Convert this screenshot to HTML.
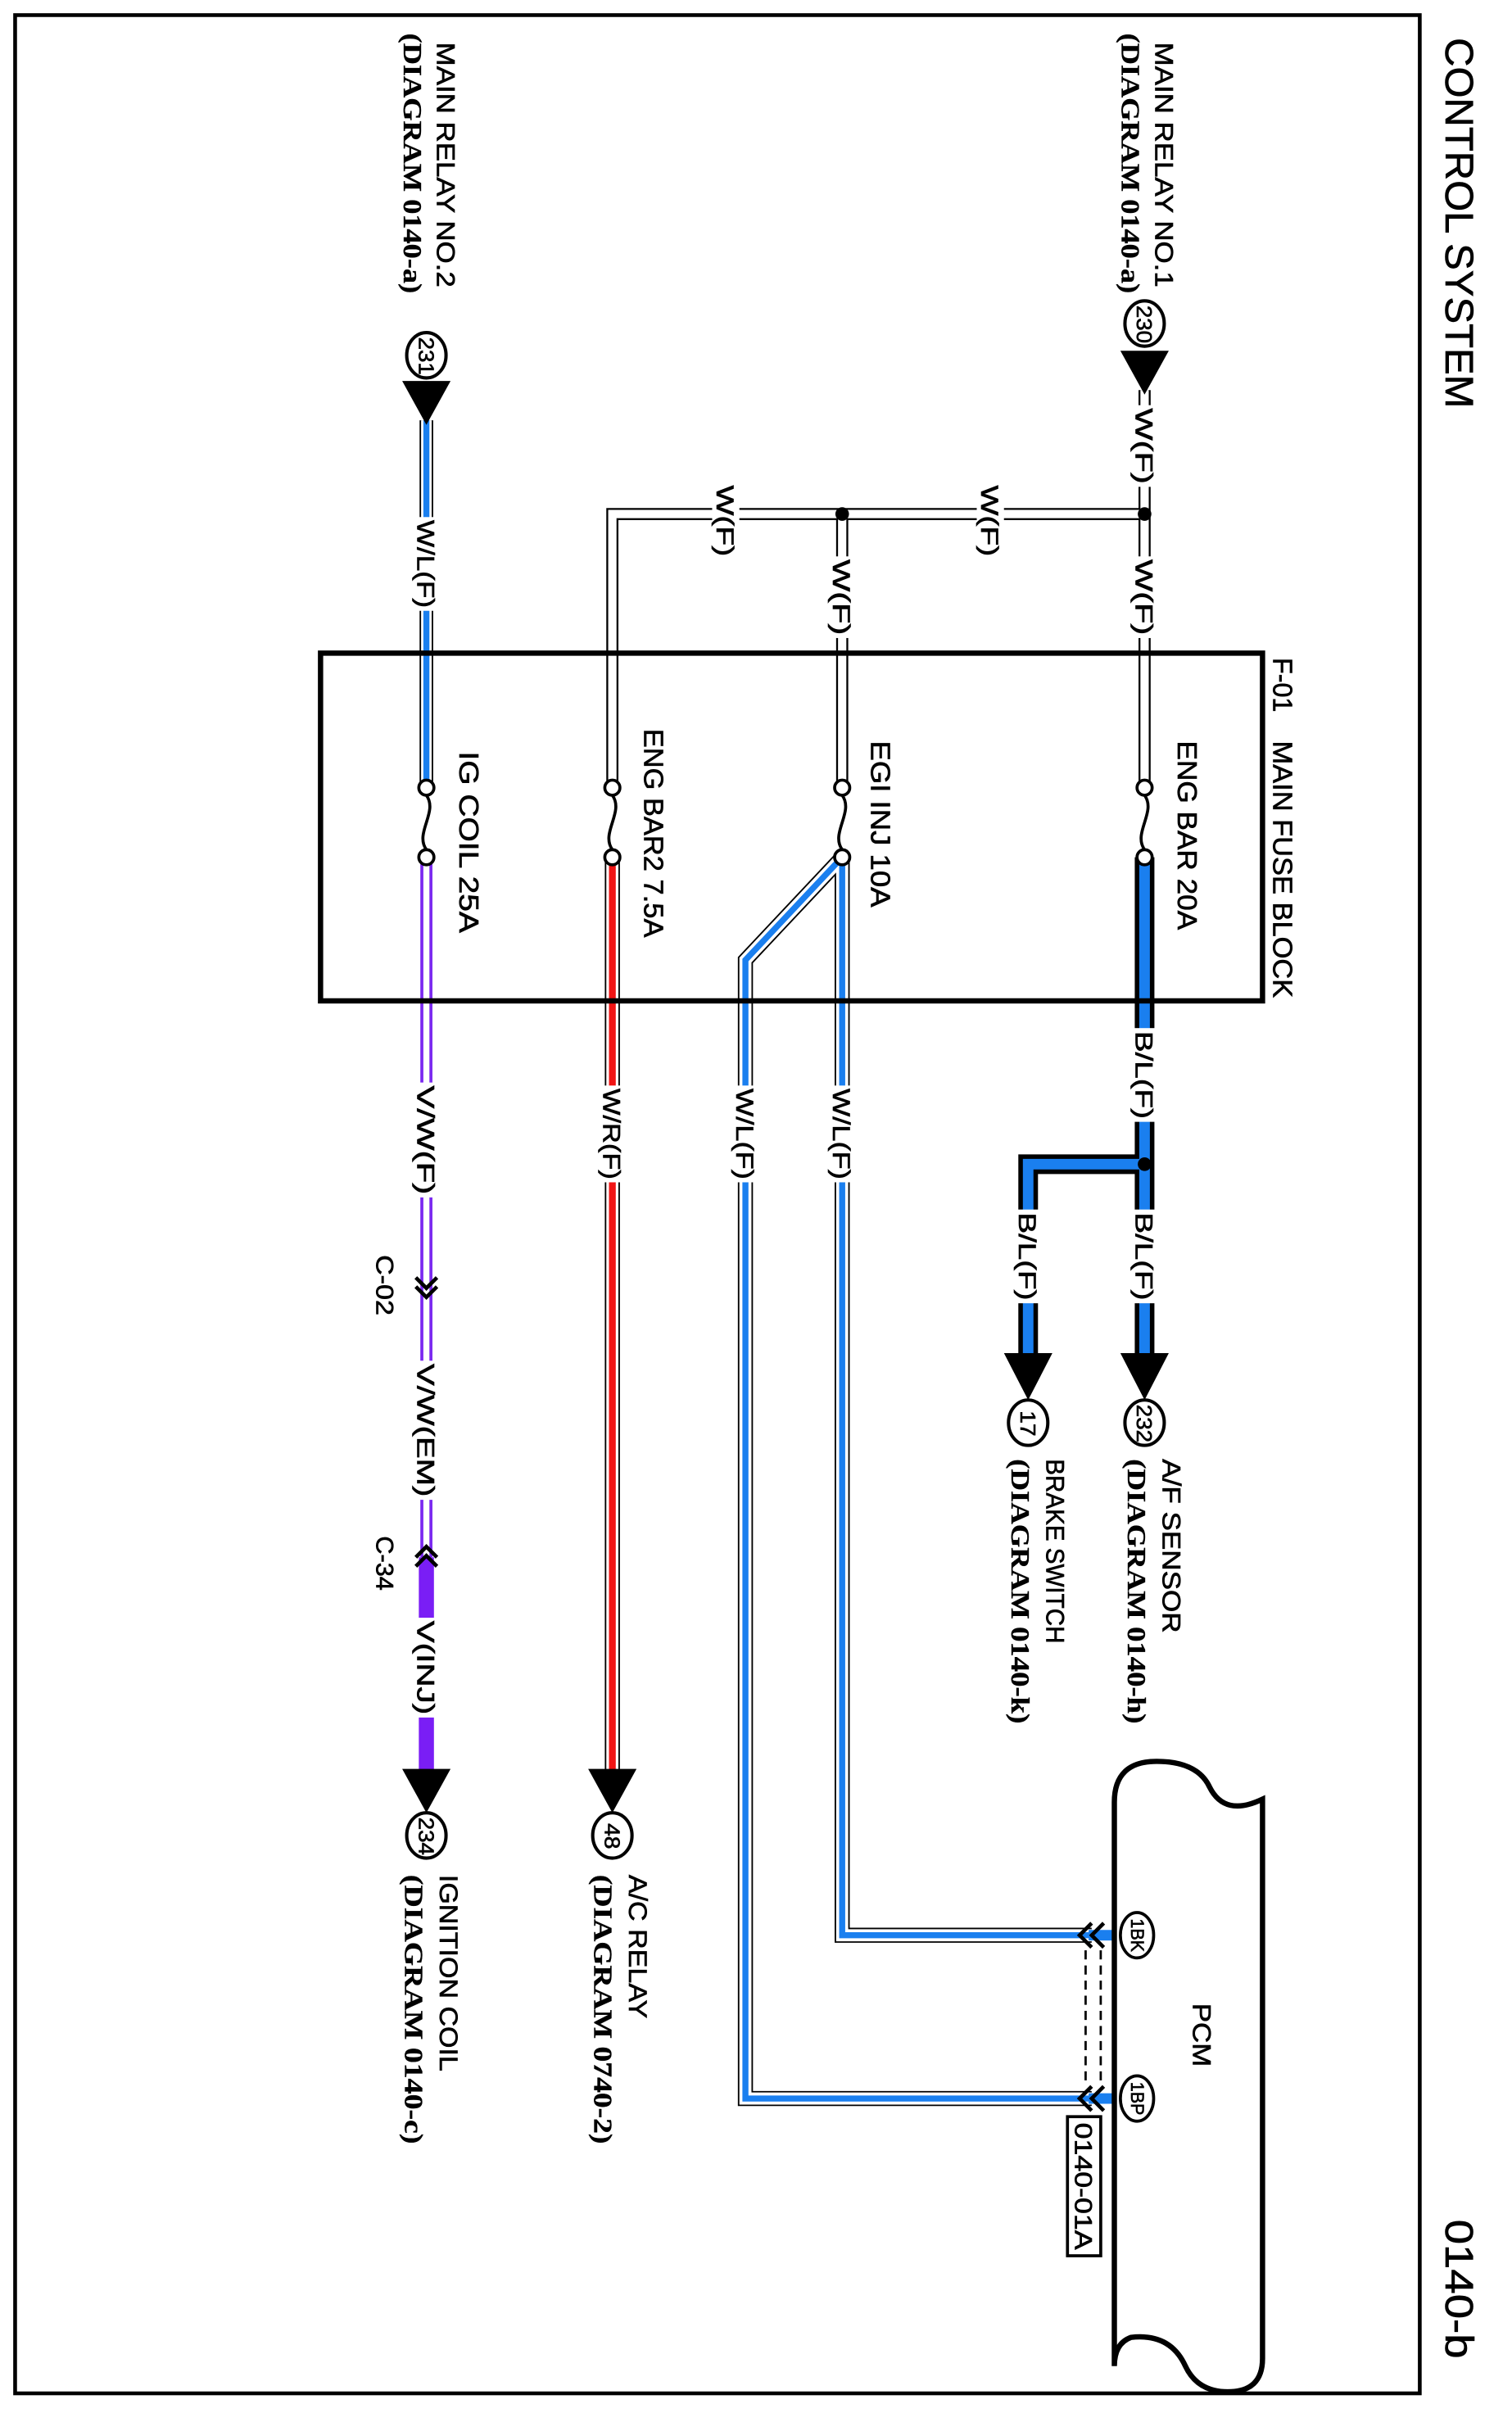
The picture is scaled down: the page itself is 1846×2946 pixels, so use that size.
<!DOCTYPE html>
<html><head><meta charset="utf-8"><style>
html,body{margin:0;padding:0;background:#fff;}
svg{display:block}
text{font-family:"Liberation Sans",Arial,sans-serif;fill:#000;stroke:#000;stroke-width:0.35;}
text.serif{font-family:"Liberation Serif",serif;font-weight:bold;stroke-width:0.2;}
</style></head><body>
<svg width="1846" height="2946" viewBox="0 0 1000 1596" preserveAspectRatio="none" xmlns="http://www.w3.org/2000/svg">
<rect x="0" y="0" width="1000" height="1596" fill="#fff"/>
<rect x="10" y="10" width="929" height="1573" fill="none" stroke="#000" stroke-width="2.5"/>

<text transform="translate(956,25) rotate(90)" font-size="26" textLength="245" lengthAdjust="spacingAndGlyphs">CONTROL SYSTEM</text>
<text transform="translate(956,1468) rotate(90)" font-size="26" textLength="92" lengthAdjust="spacingAndGlyphs">0140-b</text>

<g fill="none" stroke-linejoin="miter">
<path d="M757,258 V521 M757,340 H405 V521 M557,340 V521" stroke="#000" stroke-width="8"/>
<path d="M757,258 V521 M757,340 H405 V521 M557,340 V521" stroke="#fff" stroke-width="5.5"/>
<path d="M282,278 V521" stroke="#000" stroke-width="9"/>
<path d="M282,278 V521" stroke="#fff" stroke-width="7"/>
<path d="M282,278 V521" stroke="#1a7fef" stroke-width="4"/>
<path d="M757,567 V900 M757,770 H680 V900" stroke="#000" stroke-width="13"/>
<path d="M757,567 V900 M757,770 H680 V900" stroke="#1a7fef" stroke-width="7"/>
<path d="M557,567 V1280 H722 M557,567 L493,635 V1388 H722" stroke="#000" stroke-width="10"/>
<path d="M557,567 V1280 H722 M557,567 L493,635 V1388 H722" stroke="#fff" stroke-width="8"/>
<path d="M557,567 V1280 H722 M557,567 L493,635 V1388 H722" stroke="#1a7fef" stroke-width="4"/>
<path d="M720,1280 H737 M720,1388 H737" stroke="#1a7fef" stroke-width="7"/>
<path d="M405,567 V1172" stroke="#000" stroke-width="10"/>
<path d="M405,567 V1172" stroke="#fff" stroke-width="8"/>
<path d="M405,567 V1172" stroke="#f01414" stroke-width="4.5"/>
<path d="M282,567 V1030" stroke="#7a28f0" stroke-width="8"/>
<path d="M282,567 V1030" stroke="#fff" stroke-width="4"/>
<path d="M282,1030 V1172" stroke="#7a1ef5" stroke-width="10"/>
</g>

<circle cx="757" cy="340" r="4.5"/><circle cx="557" cy="340" r="4.5"/><circle cx="757" cy="770" r="4.5"/>

<rect x="212" y="432" width="623" height="230" fill="none" stroke="#000" stroke-width="3.5"/>

<g fill="#fff" stroke="#000" stroke-width="2">
<circle cx="757" cy="521" r="5"/><circle cx="757" cy="567" r="5"/>
<circle cx="557" cy="521" r="5"/><circle cx="557" cy="567" r="5"/>
<circle cx="405" cy="521" r="5"/><circle cx="405" cy="567" r="5"/>
<circle cx="282" cy="521" r="5"/><circle cx="282" cy="567" r="5"/>
</g>
<g fill="none" stroke="#000" stroke-width="2">
<path d="M757,526 C765,537 749,551 757,562"/>
<path d="M557,526 C565,537 549,551 557,562"/>
<path d="M405,526 C413,537 397,551 405,562"/>
<path d="M282,526 C290,537 274,551 282,562"/>
</g>

<g fill="#fff">
<rect x="748" y="268" width="18" height="54"/>
<rect x="748" y="368" width="18" height="54"/>
<rect x="548" y="368" width="18" height="54"/>
<rect x="646" y="320" width="18" height="50"/>
<rect x="471" y="320" width="18" height="50"/>
<rect x="273" y="342" width="18" height="62"/>
<rect x="748" y="680" width="18" height="62"/>
<rect x="748" y="800" width="18" height="62"/>
<rect x="671" y="800" width="18" height="62"/>
<rect x="548" y="718" width="18" height="64"/>
<rect x="484" y="718" width="18" height="64"/>
<rect x="396" y="718" width="18" height="64"/>
<rect x="273" y="716" width="18" height="76"/>
<rect x="273" y="900" width="18" height="92"/>
<rect x="273" y="1070" width="18" height="66"/>
</g>
<g font-size="16">
<text transform="translate(751,270) rotate(90)" textLength="50" lengthAdjust="spacingAndGlyphs">W(F)</text>
<text transform="translate(751,370) rotate(90)" textLength="50" lengthAdjust="spacingAndGlyphs">W(F)</text>
<text transform="translate(551,370) rotate(90)" textLength="50" lengthAdjust="spacingAndGlyphs">W(F)</text>
<text transform="translate(649,321) rotate(90)" textLength="47" lengthAdjust="spacingAndGlyphs">W(F)</text>
<text transform="translate(474,321) rotate(90)" textLength="47" lengthAdjust="spacingAndGlyphs">W(F)</text>
<text transform="translate(276,344) rotate(90)" textLength="58" lengthAdjust="spacingAndGlyphs">W/L(F)</text>
<text transform="translate(751,682) rotate(90)" textLength="58" lengthAdjust="spacingAndGlyphs">B/L(F)</text>
<text transform="translate(751,802) rotate(90)" textLength="58" lengthAdjust="spacingAndGlyphs">B/L(F)</text>
<text transform="translate(674,802) rotate(90)" textLength="58" lengthAdjust="spacingAndGlyphs">B/L(F)</text>
<text transform="translate(551,720) rotate(90)" textLength="60" lengthAdjust="spacingAndGlyphs">W/L(F)</text>
<text transform="translate(487,720) rotate(90)" textLength="60" lengthAdjust="spacingAndGlyphs">W/L(F)</text>
<text transform="translate(399,720) rotate(90)" textLength="60" lengthAdjust="spacingAndGlyphs">W/R(F)</text>
<text transform="translate(276,718) rotate(90)" textLength="72" lengthAdjust="spacingAndGlyphs">V/W(F)</text>
<text transform="translate(276,902) rotate(90)" textLength="88" lengthAdjust="spacingAndGlyphs">V/W(EM)</text>
<text transform="translate(276,1072) rotate(90)" textLength="62" lengthAdjust="spacingAndGlyphs">V(INJ)</text>
<text transform="translate(249,830) rotate(90)" textLength="40" lengthAdjust="spacingAndGlyphs">C-02</text>
<text transform="translate(249,1016) rotate(90)" textLength="36" lengthAdjust="spacingAndGlyphs">C-34</text>
</g>

<g fill="none" stroke="#000" stroke-width="2.5">
<polyline points="275,845 282,852 289,845"/><polyline points="275,851 282,858 289,851"/>
<polyline points="275,1030 282,1023 289,1030"/><polyline points="275,1036 282,1029 289,1036"/>
<polyline points="722,1272 714,1280 722,1288"/><polyline points="730,1272 722,1280 730,1288"/>
<polyline points="722,1380 714,1388 722,1396"/><polyline points="730,1380 722,1388 730,1396"/>
</g>
<g stroke="#000" stroke-width="1.5" stroke-dasharray="6,4">
<line x1="718" y1="1290" x2="718" y2="1378"/><line x1="728" y1="1290" x2="728" y2="1378"/>
</g>

<g font-size="18">
<text transform="translate(842,435) rotate(90)" textLength="36" lengthAdjust="spacingAndGlyphs">F-01</text>
<text transform="translate(842,490) rotate(90)" textLength="170" lengthAdjust="spacingAndGlyphs">MAIN FUSE BLOCK</text>
<text transform="translate(779,490) rotate(90)" textLength="125" lengthAdjust="spacingAndGlyphs">ENG BAR 20A</text>
<text transform="translate(576,490) rotate(90)" textLength="110" lengthAdjust="spacingAndGlyphs">EGI INJ 10A</text>
<text transform="translate(426,482) rotate(90)" textLength="138" lengthAdjust="spacingAndGlyphs">ENG BAR2 7.5A</text>
<text transform="translate(304,497) rotate(90)" textLength="120" lengthAdjust="spacingAndGlyphs">IG COIL 25A</text>
</g>

<g fill="#000">
<polygon points="741,232 773,232 757,261"/>
<polygon points="266,252 298,252 282,281"/>
<polygon points="741,895 773,895 757,926"/>
<polygon points="664,895 696,895 680,926"/>
<polygon points="389,1170 421,1170 405,1199"/>
<polygon points="266,1170 298,1170 282,1199"/>
</g>

<g fill="#fff" stroke="#000" stroke-width="2.2">
<ellipse cx="757" cy="214" rx="13" ry="15"/>
<ellipse cx="282" cy="235" rx="13" ry="15"/>
<ellipse cx="757" cy="941" rx="13" ry="15"/>
<ellipse cx="680" cy="941" rx="13" ry="15"/>
<ellipse cx="405" cy="1214" rx="13" ry="15"/>
<ellipse cx="282" cy="1214" rx="13" ry="15"/>
</g>
<g font-size="14">
<text transform="translate(752,202) rotate(90)" textLength="25" lengthAdjust="spacingAndGlyphs">230</text>
<text transform="translate(277,223) rotate(90)" textLength="25" lengthAdjust="spacingAndGlyphs">231</text>
<text transform="translate(752,929) rotate(90)" textLength="25" lengthAdjust="spacingAndGlyphs">232</text>
<text transform="translate(675,933) rotate(90)" textLength="17" lengthAdjust="spacingAndGlyphs">17</text>
<text transform="translate(400,1206) rotate(90)" textLength="17" lengthAdjust="spacingAndGlyphs">48</text>
<text transform="translate(277,1202) rotate(90)" textLength="25" lengthAdjust="spacingAndGlyphs">234</text>
</g>

<g font-size="17">
<text transform="translate(764,28) rotate(90)" textLength="162" lengthAdjust="spacingAndGlyphs">MAIN RELAY NO.1</text>
<text class="serif" transform="translate(742,22) rotate(90)" textLength="172" lengthAdjust="spacingAndGlyphs">(DIAGRAM 0140-a)</text>
<text transform="translate(289,28) rotate(90)" textLength="162" lengthAdjust="spacingAndGlyphs">MAIN RELAY NO.2</text>
<text class="serif" transform="translate(267,22) rotate(90)" textLength="172" lengthAdjust="spacingAndGlyphs">(DIAGRAM 0140-a)</text>
<text transform="translate(769,965) rotate(90)" textLength="115" lengthAdjust="spacingAndGlyphs">A/F SENSOR</text>
<text class="serif" transform="translate(746,965) rotate(90)" textLength="175" lengthAdjust="spacingAndGlyphs">(DIAGRAM  0140-h)</text>
<text transform="translate(692,965) rotate(90)" textLength="122" lengthAdjust="spacingAndGlyphs">BRAKE SWITCH</text>
<text class="serif" transform="translate(669,965) rotate(90)" textLength="175" lengthAdjust="spacingAndGlyphs">(DIAGRAM  0140-k)</text>
<text transform="translate(416,1240) rotate(90)" textLength="95" lengthAdjust="spacingAndGlyphs">A/C RELAY</text>
<text class="serif" transform="translate(393,1240) rotate(90)" textLength="178" lengthAdjust="spacingAndGlyphs">(DIAGRAM  0740-2)</text>
<text transform="translate(291,1240) rotate(90)" textLength="130" lengthAdjust="spacingAndGlyphs">IGNITION COIL</text>
<text class="serif" transform="translate(268,1240) rotate(90)" textLength="178" lengthAdjust="spacingAndGlyphs">(DIAGRAM  0140-c)</text>
</g>

<path d="M737,1565 V1192 Q737,1165 765,1165 Q792,1165 800,1182 Q810,1202 835,1190 V1560 Q835,1582 812,1582 Q792,1582 784,1565 Q774,1543 748,1546 Q737,1550 737,1565 Z" fill="none" stroke="#000" stroke-width="3.5"/>
<g fill="#fff" stroke="#000" stroke-width="2">
<ellipse cx="752" cy="1280" rx="11" ry="15"/>
<ellipse cx="752" cy="1388" rx="11" ry="15"/>
</g>
<g font-size="12">
<text transform="translate(748,1269) rotate(90)" textLength="22" lengthAdjust="spacingAndGlyphs">1BK</text>
<text transform="translate(748,1377) rotate(90)" textLength="22" lengthAdjust="spacingAndGlyphs">1BP</text>
</g>
<text transform="translate(789,1325) rotate(90)" font-size="17" textLength="42" lengthAdjust="spacingAndGlyphs">PCM</text>
<rect x="706" y="1400" width="22" height="92" fill="#fff" stroke="#000" stroke-width="2"/>
<text transform="translate(711,1404) rotate(90)" font-size="16" textLength="84" lengthAdjust="spacingAndGlyphs">0140-01A</text>
</svg>
</body></html>
